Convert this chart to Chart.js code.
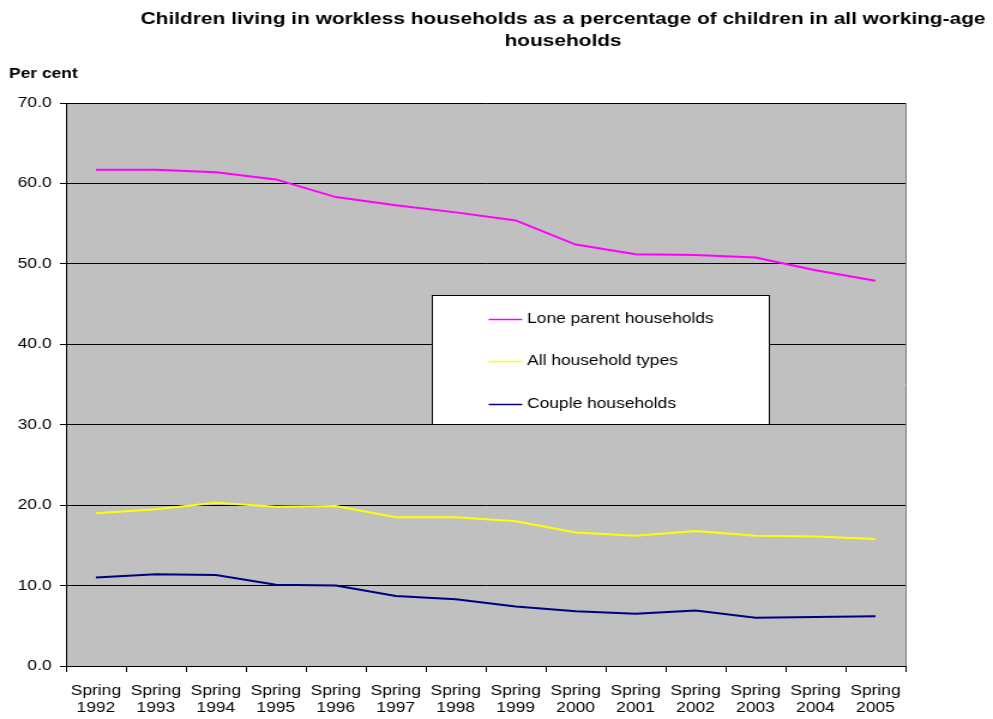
<!DOCTYPE html>
<html>
<head>
<meta charset="utf-8">
<script src="https://cdn.jsdelivr.net/npm/chart.js@4/dist/chart.umd.min.js"></script>
<style>
  html, body { margin: 0; padding: 0; background: #ffffff; overflow: hidden; }
  /* The chart is laid out on a narrower canvas and widened to the page,
     giving the broad lettering of the original office-chart export. */
  #wrap { width: 828px; height: 719px; transform: scaleX(1.1993); transform-origin: 0 0; }
</style>
</head>
<body>
<div id="wrap"><canvas id="c" width="828" height="719"></canvas></div>
<script>
// Survey periods (Labour Force Survey, spring quarters)
const years = ['1992','1993','1994','1995','1996','1997','1998','1999','2000','2001','2002','2003','2004','2005'];
const categories = years.map(y => ['Spring', y]);

// Children in workless households, % of children in working-age households
const loneParent = [61.7, 61.7, 61.4, 60.5, 58.3, 57.3, 56.4, 55.4, 52.4, 51.2, 51.1, 50.8, 49.2, 47.9];
const allHouseholds = [19.0, 19.5, 20.3, 19.8, 19.9, 18.5, 18.5, 18.0, 16.6, 16.2, 16.8, 16.2, 16.1, 15.8];
const couple = [11.0, 11.4, 11.3, 10.1, 10.0, 8.7, 8.3, 7.4, 6.8, 6.5, 6.9, 6.0, 6.1, 6.2];

const seriesNames = ['Lone parent households', 'All household types', 'Couple households'];
const titleLines = ['Children living in workless households as a percentage of children in all working-age', 'households'];
const yAxisTitle = 'Per cent';

const FONT = 'Arial, "Liberation Sans", sans-serif';

// Grey plot area behind the series, grey frame on the right edge
const plotArea = {
  id: 'plotArea',
  beforeDraw(chart) {
    const { ctx, chartArea: a } = chart;
    ctx.save();
    ctx.fillStyle = '#c0c0c0';
    ctx.fillRect(a.left, a.top, a.right - a.left, a.bottom - a.top);
    ctx.restore();
  },
  afterDatasetsDraw(chart) {
    const { ctx, chartArea: a } = chart;
    ctx.save();
    ctx.strokeStyle = '#808080';
    ctx.lineWidth = 1;
    ctx.beginPath();
    ctx.moveTo(a.right + 0.5, a.top);
    ctx.lineTo(a.right + 0.5, a.bottom);
    ctx.stroke();
    ctx.restore();
  }
};

// Two-line title and the unit label above the value axis
const headings = {
  id: 'headings',
  afterDraw(chart) {
    const { ctx } = chart;
    ctx.save();
    ctx.fillStyle = '#000';
    ctx.font = 'bold 17.4px ' + FONT;
    ctx.textAlign = 'center';
    ctx.textBaseline = 'middle';
    ctx.fillText(titleLines[0], 469.5, 19);
    ctx.fillText(titleLines[1], 469.5, 41);
    ctx.font = 'bold 14.5px ' + FONT;
    ctx.textAlign = 'left';
    ctx.fillText(yAxisTitle, 7.5, 74);
    ctx.restore();
  }
};

// Boxed legend placed inside the plot area
const boxLegend = {
  id: 'boxLegend',
  afterDraw(chart) {
    const { ctx } = chart;
    const box = { x: 360, y: 295, w: 281, h: 129 };
    ctx.save();
    ctx.fillStyle = '#ffffff';
    ctx.fillRect(box.x, box.y, box.w, box.h);
    ctx.strokeStyle = '#000';
    ctx.lineWidth = 1;
    ctx.strokeRect(box.x + 0.5, box.y + 0.5, box.w, box.h);
    const rows = [319, 361, 404];
    ctx.font = '14.5px ' + FONT;
    ctx.textBaseline = 'middle';
    ctx.textAlign = 'left';
    chart.data.datasets.forEach((ds, i) => {
      const y = rows[i] + 0.5;
      ctx.strokeStyle = ds.borderColor;
      ctx.lineWidth = 1.5;
      ctx.beginPath();
      ctx.moveTo(407.5, y);
      ctx.lineTo(435.5, y);
      ctx.stroke();
      ctx.fillStyle = '#000';
      ctx.fillText(ds.label, 439.5, rows[i]);
    });
    ctx.restore();
  }
};

new Chart(document.getElementById('c'), {
  type: 'line',
  data: {
    labels: categories,
    datasets: [
      { label: seriesNames[0], data: loneParent, borderColor: '#ff00ff' },
      { label: seriesNames[1], data: allHouseholds, borderColor: '#ffff00' },
      { label: seriesNames[2], data: couple, borderColor: '#000080' }
    ].map(d => Object.assign(d, { borderWidth: 2, pointRadius: 0, tension: 0, fill: false }))
  },
  options: {
    responsive: false,
    animation: false,
    layout: { padding: { left: 0, top: 103, right: 73, bottom: 0 } },
    plugins: {
      legend: { display: false },
      title: { display: false },
      tooltip: { enabled: false }
    },
    scales: {
      x: {
        offset: true,
        grid: { offset: true, drawOnChartArea: false, color: '#000', tickLength: 6 },
        border: { color: '#000', width: 1 },
        ticks: { color: '#000', font: { family: FONT, size: 14.5, lineHeight: 1.2 }, padding: 10, maxRotation: 0, autoSkip: false },
        afterFit(scale) { scale.height = 53; }
      },
      y: {
        min: 0,
        max: 70,
        ticks: { stepSize: 10, color: '#000', font: { family: FONT, size: 14.5 }, padding: 7,
                 callback: v => v.toFixed(1) },
        grid: { color: '#000', tickLength: 5 },
        border: { color: '#000', width: 1 },
        afterFit(scale) { scale.width = 55; }
      }
    }
  },
  plugins: [plotArea, headings, boxLegend]
});
</script>
</body>
</html>
